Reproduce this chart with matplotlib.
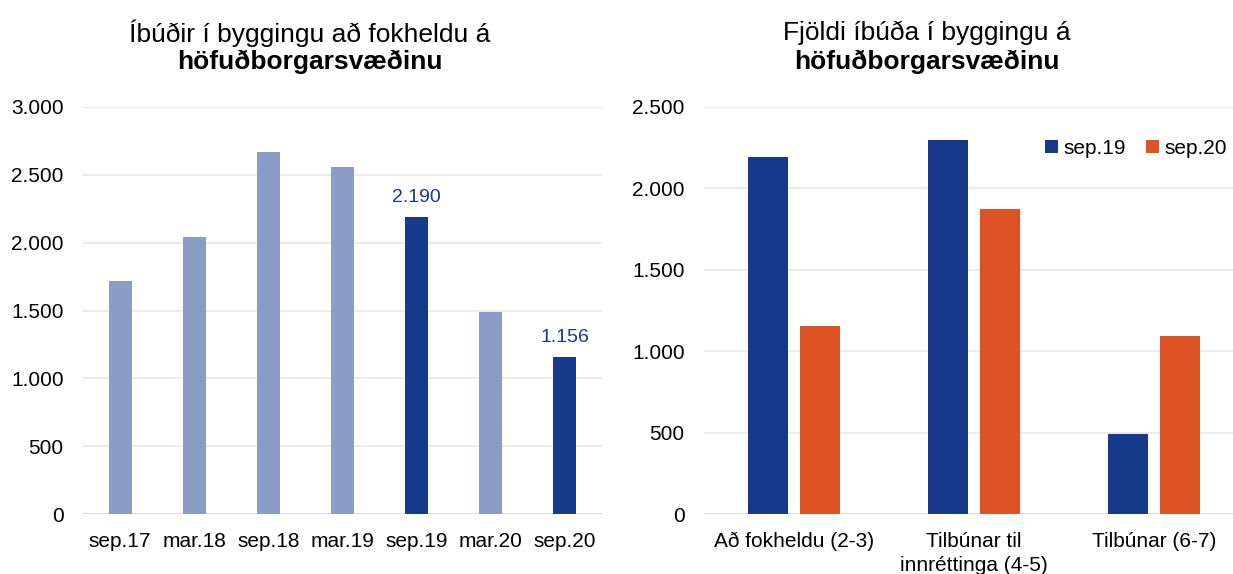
import matplotlib
matplotlib.use("Agg")
import matplotlib.pyplot as plt
from matplotlib.patches import Patch
from matplotlib.ticker import FuncFormatter
import numpy as np

plt.rcParams['font.family'] = ['Liberation Sans', 'DejaVu Sans']

# ---- Data ----
left_periods = ["sep.17", "mar.18", "sep.18", "mar.19", "sep.19", "mar.20", "sep.20"]
left_values = [1720, 2040, 2670, 2560, 2190, 1490, 1156]
left_highlight = [False, False, False, False, True, False, True]

right_categories = ["Að fokheldu (2-3)", "Tilbúnar til\ninnréttinga (4-5)", "Tilbúnar (6-7)"]
right_sep19 = [2190, 2300, 490]
right_sep20 = [1156, 1875, 1095]
series_labels = ["sep.19", "sep.20"]

left_title = ["Íbúðir í byggingu að fokheldu á", "höfuðborgarsvæðinu"]
right_title = ["Fjöldi íbúða í byggingu á", "höfuðborgarsvæðinu"]

DARK = "#173A8B"
LIGHT = "#8B9DC7"
ORANGE = "#DD5326"
GRID = "#EBEBEB"
BASE = "#D9D9D9"

W, H = 1233, 574
fig = plt.figure(figsize=(W / 100, H / 100), dpi=100)

def thousands(x, pos):
    return f"{int(x):,}".replace(",", ".")

def style(ax, ymax, step):
    ax.set_ylim(0, ymax)
    ax.set_yticks(np.arange(0, ymax + 1, step))
    ax.yaxis.set_major_formatter(FuncFormatter(thousands))
    for s in ax.spines.values():
        s.set_visible(False)
    ax.grid(axis='y', color=GRID, linewidth=1.5)
    ax.set_axisbelow(True)
    ax.axhline(0, color=BASE, linewidth=2, zorder=1)
    ax.tick_params(axis='both', length=0, labelsize=15, colors='#000000')
    ax.tick_params(axis='y', pad=14)
    ax.tick_params(axis='x', pad=13)

# ---- Left chart ----
bottom = 1 - 514 / H
top = 1 - 107 / H
axL = fig.add_axes([83 / W, bottom, 519 / W, top - bottom])
xL = np.arange(len(left_periods))
colsL = [DARK if h else LIGHT for h in left_highlight]
axL.bar(xL, left_values, width=0.31, color=colsL, zorder=2)
axL.set_xlim(-0.5, len(left_periods) - 0.5)
axL.set_xticks(xL)
axL.set_xticklabels(left_periods)
style(axL, 3000, 500)
for x, v, h in zip(xL, left_values, left_highlight):
    if h:
        axL.annotate(thousands(v, None), (x, v), xytext=(0, 8), textcoords='offset points',
                     ha='center', va='bottom', fontsize=14, color=DARK)

# ---- Right chart ----
axR = fig.add_axes([704 / W, bottom, 540 / W, top - bottom])
xR = np.arange(len(right_categories))
bw = 0.222
off = 0.142
axR.bar(xR - off, right_sep19, width=bw, color=DARK, zorder=2, label=series_labels[0])
axR.bar(xR + off, right_sep20, width=bw, color=ORANGE, zorder=2, label=series_labels[1])
axR.set_xlim(-0.5, len(right_categories) - 0.5)
axR.set_xticks(xR)
axR.set_xticklabels(right_categories, linespacing=1.3)
style(axR, 2500, 500)

handles = [Patch(facecolor=DARK, edgecolor='none'), Patch(facecolor=ORANGE, edgecolor='none')]
fig.legend(handles, series_labels, loc='center', bbox_to_anchor=(1136 / W, 1 - 148 / H),
           ncol=2, frameon=False, fontsize=15, handlelength=0.6, handleheight=0.6,
           handletextpad=0.25, columnspacing=1.0, borderpad=0)

# ---- Titles ----
for cx, lines in [(310 / W, left_title), (927 / W, right_title)]:
    fig.text(cx, 1 - 33 / H, lines[0], ha='center', va='center', fontsize=19)
    fig.text(cx, 1 - 62 / H, lines[1], ha='center', va='center', fontsize=19, fontweight='bold')

fig.savefig("out.png", dpi=100)
